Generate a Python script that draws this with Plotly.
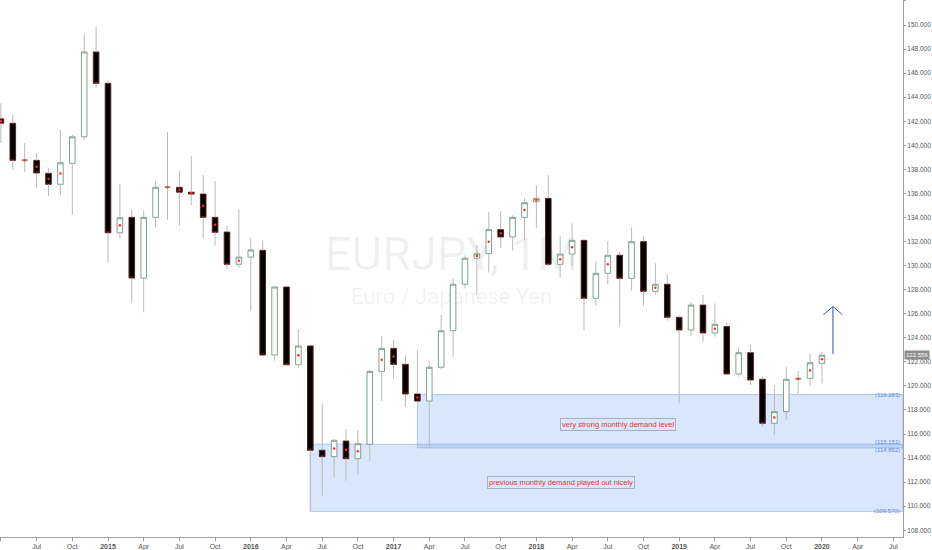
import plotly.graph_objects as go

# ---------------- data (monthly EURJPY) ----------------
months = ["2014-04", "2014-05", "2014-06", "2014-07", "2014-08", "2014-09", "2014-10", "2014-11", "2014-12",
          "2015-01", "2015-02", "2015-03", "2015-04", "2015-05", "2015-06", "2015-07", "2015-08", "2015-09",
          "2015-10", "2015-11", "2015-12", "2016-01", "2016-02", "2016-03", "2016-04", "2016-05", "2016-06",
          "2016-07", "2016-08", "2016-09", "2016-10", "2016-11", "2016-12", "2017-01", "2017-02", "2017-03",
          "2017-04", "2017-05", "2017-06", "2017-07", "2017-08", "2017-09", "2017-10", "2017-11", "2017-12",
          "2018-01", "2018-02", "2018-03", "2018-04", "2018-05", "2018-06", "2018-07", "2018-08", "2018-09",
          "2018-10", "2018-11", "2018-12", "2019-01", "2019-02", "2019-03", "2019-04", "2019-05", "2019-06",
          "2019-07", "2019-08", "2019-09", "2019-10", "2019-11", "2019-12", "2020-01"]
opens = [142.20, 141.83, 138.75, 138.75, 137.67, 136.76, 138.50, 140.71, 147.76,
         145.15, 132.73, 134.01, 128.97, 134.01, 136.51, 136.51, 136.10, 135.95,
         134.01, 132.79, 130.11, 130.71, 131.27, 122.57, 128.22, 121.76, 123.32,
         114.65, 114.12, 115.42, 113.95, 115.14, 121.21, 123.12, 121.79, 119.33,
         118.74, 121.55, 124.59, 128.45, 130.61, 130.99, 132.99, 132.38, 134.01,
         135.31, 135.59, 130.11, 130.96, 132.10, 127.28, 129.36, 130.86, 128.94,
         131.99, 127.86, 128.45, 125.70, 124.65, 126.72, 124.40, 124.94, 120.99,
         122.76, 120.55, 116.89, 117.86, 120.55, 120.63, 121.88]
highs = [143.50, 142.52, 140.17, 139.36, 138.09, 141.27, 140.86, 149.20, 149.86,
         145.37, 136.78, 134.62, 134.56, 137.01, 141.10, 137.86, 139.09, 137.53,
         137.03, 133.29, 134.68, 132.35, 132.10, 128.30, 128.25, 124.73, 123.45,
         118.55, 115.60, 116.42, 116.33, 121.32, 124.15, 123.82, 122.54, 122.98,
         122.07, 125.89, 128.91, 130.88, 131.71, 134.46, 134.54, 134.21, 135.59,
         136.67, 137.53, 132.46, 133.51, 132.15, 130.38, 132.04, 131.16, 133.18,
         132.46, 130.19, 129.28, 125.84, 126.95, 127.56, 126.86, 125.28, 123.21,
         123.40, 120.77, 120.07, 121.55, 121.24, 122.71, 122.84]
lows = [140.20, 138.00, 137.76, 136.43, 135.79, 135.87, 134.21, 140.50, 144.79,
        130.24, 132.27, 126.92, 126.12, 133.18, 133.82, 133.32, 135.04, 132.27,
        131.65, 129.72, 129.83, 126.20, 122.51, 122.10, 121.74, 121.49, 109.57,
        110.87, 112.35, 112.12, 112.65, 113.76, 118.74, 120.57, 118.27, 118.60,
        114.85, 121.38, 122.43, 128.11, 127.56, 129.41, 131.49, 131.24, 132.13,
        133.10, 129.95, 128.99, 129.97, 124.65, 126.67, 128.45, 124.92, 127.91,
        126.67, 127.61, 125.42, 118.55, 124.17, 123.67, 124.09, 120.95, 120.77,
        120.07, 116.61, 115.92, 117.17, 119.33, 120.02, 120.21]
closes = [141.83, 138.75, 138.78, 137.70, 136.76, 138.55, 140.71, 147.76, 145.15,
          132.73, 133.98, 128.97, 134.01, 136.51, 136.53, 136.10, 135.95, 134.01,
          132.77, 130.11, 130.71, 131.30, 122.57, 128.22, 121.76, 123.32, 114.65,
          114.12, 115.48, 113.95, 115.20, 121.21, 123.12, 121.79, 119.33, 118.74,
          121.55, 124.59, 128.45, 130.61, 130.99, 132.99, 132.38, 134.01, 135.23,
          135.59, 130.11, 130.96, 132.10, 127.28, 129.36, 130.86, 128.94, 131.99,
          127.86, 128.45, 125.70, 124.65, 126.72, 124.40, 125.12, 120.99, 122.76,
          120.49, 116.89, 117.86, 120.55, 120.62, 121.93, 122.559]
dot_months = ["2014-04", "2014-06", "2014-07", "2014-08", "2014-09", "2015-02", "2015-06", "2015-07",
              "2015-08", "2015-09", "2015-10", "2015-12", "2016-05", "2016-08", "2016-09", "2016-10",
              "2016-12", "2017-01", "2017-03", "2017-08", "2017-09", "2017-10", "2017-12", "2018-01",
              "2018-03", "2018-04", "2018-07", "2018-11", "2019-04", "2019-09", "2019-11", "2019-12",
              "2020-01"]

tick_months = ["2014-04", "2014-07", "2014-10", "2015-01", "2015-04", "2015-07", "2015-10", "2016-01",
               "2016-04", "2016-07", "2016-10", "2017-01", "2017-04", "2017-07", "2017-10", "2018-01",
               "2018-04", "2018-07", "2018-10", "2019-01", "2019-04", "2019-07", "2019-10", "2020-01",
               "2020-04", "2020-07"]
tick_labels = ["Apr", "Jul", "Oct", "<b>2015</b>", "Apr", "Jul", "Oct", "<b>2016</b>", "Apr", "Jul", "Oct",
               "<b>2017</b>", "Apr", "Jul", "Oct", "<b>2018</b>", "Apr", "Jul", "Oct", "<b>2019</b>",
               "Apr", "Jul", "Oct", "<b>2020</b>", "Apr", "Jul"]

zone_upper = (114.852, 119.283)   # very strong monthly demand level
zone_lower = (109.570, 115.151)   # previous monthly demand
zone_upper_start = "2017-03"
zone_lower_start = "2016-06"
last_price = 122.559
arrow_month = 60.92               # arrow drawn just right of the last candle
arrow_from, arrow_to = 122.65, 126.6


def mi(s):
    y, m = s.split("-")
    return (int(y) - 2015) * 12 + int(m) - 1


x = [mi(m) for m in months]
XMIN, XMAX = -9.076, 66.81
YMIN, YMAX = 107.44, 152.08

body_top = [max(o, c) for o, c in zip(opens, closes)]
body_bot = [min(o, c) for o, c in zip(opens, closes)]

wx, wy = [], []
for xi, h, l, t, b in zip(x, highs, lows, body_top, body_bot):
    if h > t:
        wx += [xi, xi, None]
        wy += [h, t, None]
    if l < b:
        wx += [xi, xi, None]
        wy += [b, l, None]

fig = go.Figure()

fig.add_trace(go.Candlestick(
    x=x, open=opens, close=closes, high=body_top, low=body_bot,
    increasing=dict(fillcolor="#ffffff", line=dict(color="#7fa08e", width=1)),
    decreasing=dict(fillcolor="#000000", line=dict(color="#5a1e1e", width=1)),
    whiskerwidth=0, hoverinfo="skip", showlegend=False,
))

fig.add_trace(go.Scatter(
    x=wx, y=wy, mode="lines", line=dict(color="#b9b9b9", width=1),
    hoverinfo="skip", showlegend=False,
))

dx = [mi(m) for m in dot_months]
dy = [(opens[months.index(m)] + closes[months.index(m)]) / 2 for m in dot_months]
fig.add_trace(go.Scatter(
    x=dx, y=dy, mode="markers", marker=dict(color="#ff2a2a", size=2.5, line=dict(width=0)),
    hoverinfo="skip", showlegend=False,
))

shapes = [
    dict(type="rect", xref="paper", yref="paper", x0=0, x1=1, y0=0.50, y1=0.568, layer="below",
         line=dict(width=0), fillcolor="rgba(0,0,0,0)",
         label=dict(text="EURJPY, 1M", font=dict(size=47, color="rgba(0,0,0,0.06)", family="Roboto"),
                    textposition="middle center")),
    dict(type="rect", xref="paper", yref="paper", x0=0, x1=1, y0=0.43, y1=0.472, layer="below",
         line=dict(width=0), fillcolor="rgba(0,0,0,0)",
         label=dict(text="Euro / Japanese Yen", font=dict(size=22, color="rgba(0,0,0,0.06)", family="Roboto"),
                    textposition="middle center")),
    dict(type="rect", xref="x", yref="y", x0=mi(zone_lower_start), x1=XMAX, y0=zone_lower[0], y1=zone_lower[1],
         layer="below", fillcolor="rgba(100,149,237,0.24)", line=dict(color="rgba(100,149,237,0.45)", width=1)),
    dict(type="rect", xref="x", yref="y", x0=mi(zone_upper_start), x1=XMAX, y0=zone_upper[0], y1=zone_upper[1],
         layer="below", fillcolor="rgba(100,149,237,0.24)", line=dict(color="rgba(100,149,237,0.45)", width=1)),
    # arrow shaft and open head
    dict(type="line", xref="x", yref="y", x0=arrow_month, x1=arrow_month, y0=arrow_from, y1=arrow_to,
         line=dict(color="#3358b0", width=1)),
    dict(type="path", xref="x", yref="y",
         path="M %f,%f L %f,%f L %f,%f" % (arrow_month - 0.8, arrow_to - 0.68, arrow_month, arrow_to,
                                            arrow_month + 0.8, arrow_to - 0.68),
         line=dict(color="#3358b0", width=1)),
]

annotations = []
for v, sh in [(zone_upper[1], 0), (zone_lower[1], 2), (zone_upper[0], -2), (zone_lower[0], 0)]:
    annotations.append(dict(xref="paper", yref="y", x=1, y=v, xanchor="right", yanchor="middle",
                            text="(%.3f)" % v, showarrow=False, xshift=-1, yshift=sh,
                            font=dict(size=6, color="#5f87cf", family="Liberation Sans")))
annotations.append(dict(xref="paper", yref="y", x=1, y=last_price, xanchor="left", yanchor="middle",
                        text="%.3f" % last_price, showarrow=False, xshift=1, bgcolor="#8d8d8d",
                        borderpad=1, font=dict(size=6, color="#ffffff", family="Liberation Sans")))
annotations.append(dict(xref="x", yref="y", x=42.85, y=116.83, text="very strong monthly demand level",
                        showarrow=False, bordercolor="#a8b0c0", borderwidth=1, borderpad=1,
                        font=dict(size=7.5, color="#e8322f", family="Liberation Sans")))
annotations.append(dict(xref="x", yref="y", x=38.1, y=111.93, text="previous monthly demand played out nicely",
                        showarrow=False, bordercolor="#a8b0c0", borderwidth=1, borderpad=1,
                        font=dict(size=7.5, color="#e8322f", family="Liberation Sans")))

fig.update_layout(
    width=932, height=550,
    margin=dict(l=0, r=29, t=0, b=13, autoexpand=False),
    paper_bgcolor="#ffffff", plot_bgcolor="#ffffff",
    boxgap=0.33,
    showlegend=False,
    shapes=shapes,
    annotations=annotations,
    font=dict(family="Liberation Sans", size=7, color="#555555"),
    xaxis=dict(range=[XMIN, XMAX], rangeslider=dict(visible=False), showgrid=False, zeroline=False,
               tickmode="array", tickvals=[mi(m) for m in tick_months], ticktext=tick_labels,
               ticks="outside", ticklen=3, tickcolor="#999999", showline=True, linecolor="#a0a0a0",
               linewidth=1, tickfont=dict(size=7, color="#555555")),
    yaxis=dict(range=[YMIN, YMAX], side="right", showgrid=False, zeroline=False,
               tickmode="linear", tick0=108, dtick=2, tickformat=".3f",
               ticks="outside", ticklen=2, tickcolor="#999999", showline=True, linecolor="#a0a0a0",
               linewidth=1, tickfont=dict(size=6.5, color="#555555")),
)

fig.write_html("out.html", config={"displayModeBar": False},
               post_script="document.body.style.margin='0px';")
